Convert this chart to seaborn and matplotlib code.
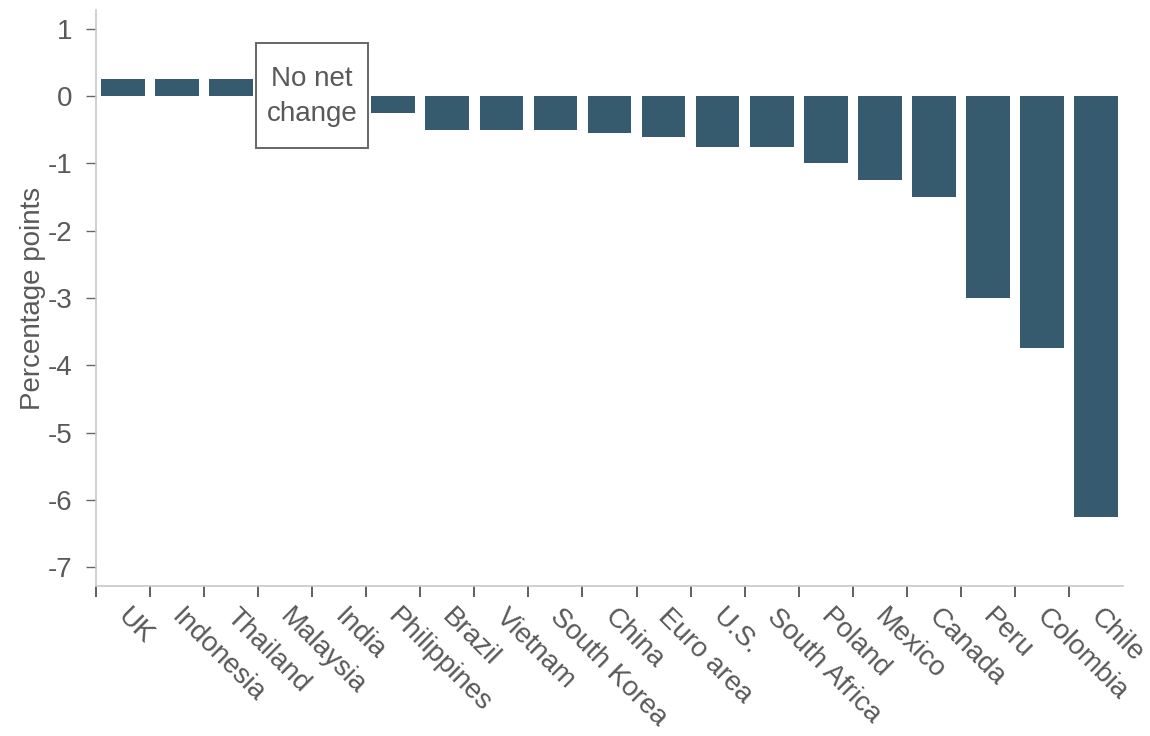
import matplotlib
matplotlib.use("Agg")
import matplotlib.pyplot as plt
import matplotlib.transforms as mtransforms
from matplotlib.patches import Rectangle
import seaborn as sns
import pandas as pd
import numpy as np

countries = ["UK", "Indonesia", "Thailand", "Malaysia", "India", "Philippines",
             "Brazil", "Vietnam", "South Korea", "China", "Euro area", "U.S.",
             "South Africa", "Poland", "Mexico", "Canada", "Peru", "Colombia", "Chile"]
change_pp = [0.25, 0.25, 0.25, 0.0, 0.0, -0.25,
             -0.5, -0.5, -0.5, -0.55, -0.6, -0.75,
             -0.75, -1.0, -1.25, -1.5, -3.0, -3.75, -6.25]
y_ticks = [1, 0, -1, -2, -3, -4, -5, -6, -7]

sns.set_style("ticks")
plt.rcParams["font.family"] = ["Liberation Sans", "DejaVu Sans"]

text_color = "#595959"
bar_color = "#365a6e"
fs = 20

df = pd.DataFrame({"country": countries, "change": change_pp})

fig = plt.figure(figsize=(11.5, 7.36), dpi=100)
ax = fig.add_axes([0.0835, 0.2038, 0.893, 0.7826])

sns.barplot(data=df, x="country", y="change", color=bar_color, width=0.81,
            saturation=1, ax=ax, edgecolor="none")

n = len(countries)
ax.set_xlim(-0.5, n - 0.5)
ax.set_ylim(-7.28, 1.28)

# category boundaries carry the tick marks, centers carry the labels
ax.set_xticks(np.arange(n) - 0.5)
ax.set_xticklabels([])
ax.set_xticks(np.arange(n), minor=True)
ax.set_xticklabels(countries, minor=True, rotation=-45, ha="left",
                   rotation_mode="anchor", fontsize=fs, color=text_color)
ax.tick_params(axis="x", which="major", length=8, width=1.2, color="#444444")
ax.tick_params(axis="x", which="minor", length=0, pad=13)
shift = mtransforms.ScaledTranslation(8 / 100, 0, fig.dpi_scale_trans)
for lab in ax.get_xticklabels(minor=True):
    lab.set_transform(lab.get_transform() + shift)

ax.set_yticks(y_ticks)
ax.set_yticklabels([str(v) for v in y_ticks], fontsize=fs, color=text_color)
ax.tick_params(axis="y", length=7, width=1, color="#666666", pad=10)

ax.set_xlabel("")
ax.set_ylabel("Percentage points", fontsize=fs, color=text_color, labelpad=1)

sns.despine(ax=ax)
for side in ("left", "bottom"):
    ax.spines[side].set_color("#c8c8c8")
    ax.spines[side].set_linewidth(1.2)

# "No net change" callout over the zero-change group
ax.add_patch(Rectangle((3.5 - 1.04, -0.775), 2.08, 1.56, facecolor="white",
                       edgecolor="#666666", linewidth=1.4, zorder=5))
ax.text(3.5, 0.0, "No net\nchange", ha="center", va="center", fontsize=fs,
        color=text_color, linespacing=1.45, zorder=6)

fig.savefig("out.png", dpi=100)
